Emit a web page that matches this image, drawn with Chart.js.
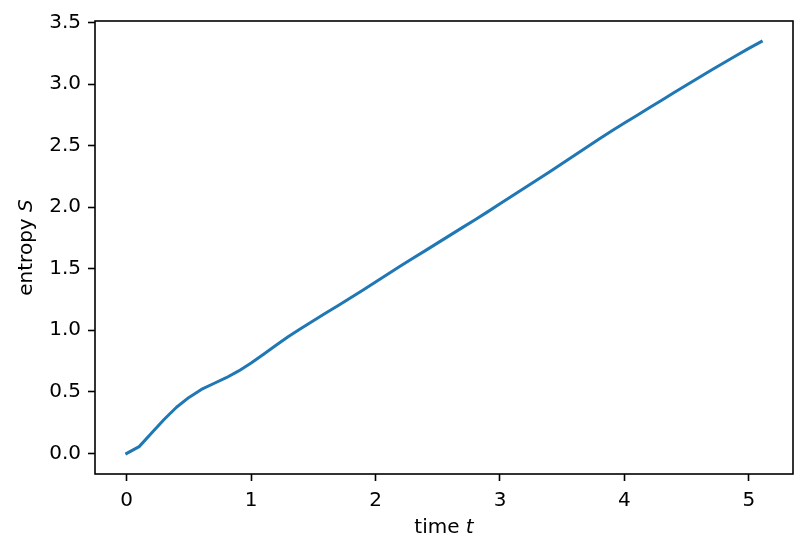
<!DOCTYPE html>
<html>
<head>
<meta charset="utf-8">
<script src="https://cdn.jsdelivr.net/npm/chart.js@4/dist/chart.umd.min.js"></script>
<style>
  html, body { margin: 0; padding: 0; background: #ffffff; }
  #wrap { width: 807px; height: 552px; }
</style>
</head>
<body>
<div id="wrap"><canvas id="c" width="807" height="552"></canvas></div>
<script>
// ---- data ----
const times = [0.0, 0.1, 0.2, 0.3, 0.4, 0.5, 0.6, 0.7, 0.8, 0.9,
               1.0, 1.1, 1.2, 1.3, 1.4, 1.5, 1.6, 1.7, 1.8, 1.9,
               2.0, 2.1, 2.2, 2.3, 2.4, 2.5, 2.6, 2.7, 2.8, 2.9,
               3.0, 3.1, 3.2, 3.3, 3.4, 3.5, 3.6, 3.7, 3.8, 3.9,
               4.0, 4.1, 4.2, 4.3, 4.4, 4.5, 4.6, 4.7, 4.8, 4.9,
               5.0, 5.1];
const entropy = [0.000, 0.055, 0.165, 0.275, 0.375, 0.455, 0.520, 0.568, 0.615, 0.670,
                 0.735, 0.805, 0.878, 0.950, 1.015, 1.077, 1.140, 1.202, 1.265, 1.328,
                 1.393, 1.458, 1.522, 1.585, 1.647, 1.710, 1.773, 1.836, 1.898, 1.962,
                 2.027, 2.092, 2.157, 2.222, 2.288, 2.355, 2.422, 2.489, 2.556, 2.620,
                 2.683, 2.745, 2.807, 2.869, 2.931, 2.993, 3.054, 3.114, 3.173, 3.232,
                 3.290, 3.345];
const xTicks = [0, 1, 2, 3, 4, 5];
const yTicks = [0.0, 0.5, 1.0, 1.5, 2.0, 2.5, 3.0, 3.5];
const xTitle = ['time ', 't'];
const yTitle = ['entropy ', 'S'];

const FONT = '"DejaVu Sans", "Liberation Sans", sans-serif';

const frameAndTitles = {
  id: 'frameAndTitles',
  afterDraw(chart) {
    const ctx = chart.ctx;
    const a = chart.chartArea;
    ctx.save();
    ctx.strokeStyle = '#000000';
    ctx.lineWidth = 1.6;
    ctx.strokeRect(a.left, a.top, a.right - a.left, a.bottom - a.top);

    ctx.fillStyle = '#000000';
    ctx.textBaseline = 'alphabetic';
    ctx.textAlign = 'left';
    const normal = '20px ' + FONT;
    const ital = 'italic 20px ' + FONT;

    // x title
    ctx.font = normal; const w1 = ctx.measureText(xTitle[0]).width;
    ctx.font = ital; const w2 = ctx.measureText(xTitle[1]).width;
    const cx = (a.left + a.right) / 2;
    let sx = cx - (w1 + w2) / 2;
    ctx.font = normal; ctx.fillText(xTitle[0], sx, 533);
    ctx.font = ital; ctx.fillText(xTitle[1], sx + w1, 533);

    // y title
    ctx.translate(32, (a.top + a.bottom) / 2);
    ctx.rotate(-Math.PI / 2);
    ctx.font = normal; const v1 = ctx.measureText(yTitle[0]).width;
    ctx.font = ital; const v2 = ctx.measureText(yTitle[1]).width;
    let sy = -(v1 + v2) / 2;
    ctx.font = normal; ctx.fillText(yTitle[0], sy, 0);
    ctx.font = ital; ctx.fillText(yTitle[1], sy + v1, 0);
    ctx.restore();
  }
};

const points = times.map((t, i) => ({ x: t, y: entropy[i] }));
const tMax = times[times.length - 1];
const sMax = Math.max(...entropy);

new Chart(document.getElementById('c'), {
  type: 'line',
  data: {
    datasets: [{
      data: points,
      borderColor: '#1f77b4',
      borderWidth: 3,
      pointRadius: 0,
      tension: 0,
      borderJoinStyle: 'round',
      borderCapStyle: 'square',
      fill: false
    }]
  },
  options: {
    responsive: false,
    animation: false,
    devicePixelRatio: 1,
    layout: { padding: { top: 21, right: 14, left: 0, bottom: 0 } },
    plugins: { legend: { display: false }, tooltip: { enabled: false } },
    scales: {
      x: {
        type: 'linear',
        min: -0.05 * tMax,
        max: tMax * 1.05,
        afterFit(s) { s.height = 78; },
        afterBuildTicks(s) { s.ticks = xTicks.map(v => ({ value: v })); },
        grid: { display: true, drawOnChartArea: false, drawTicks: true, tickLength: 7, tickWidth: 1.6, tickColor: '#000000' },
        border: { display: false },
        ticks: { color: '#000000', padding: 8, font: { family: FONT, size: 20 }, maxRotation: 0, callback: v => String(v) }
      },
      y: {
        type: 'linear',
        min: -0.05 * sMax,
        max: sMax * 1.05,
        afterFit(s) { s.width = 95; },
        afterBuildTicks(s) { s.ticks = yTicks.map(v => ({ value: v })); },
        grid: { display: true, drawOnChartArea: false, drawTicks: true, tickLength: 7, tickWidth: 1.6, tickColor: '#000000' },
        border: { display: false },
        ticks: { color: '#000000', padding: 7, font: { family: FONT, size: 20 }, callback: v => Number(v).toFixed(1) }
      }
    }
  },
  plugins: [frameAndTitles]
});
</script>
</body>
</html>
